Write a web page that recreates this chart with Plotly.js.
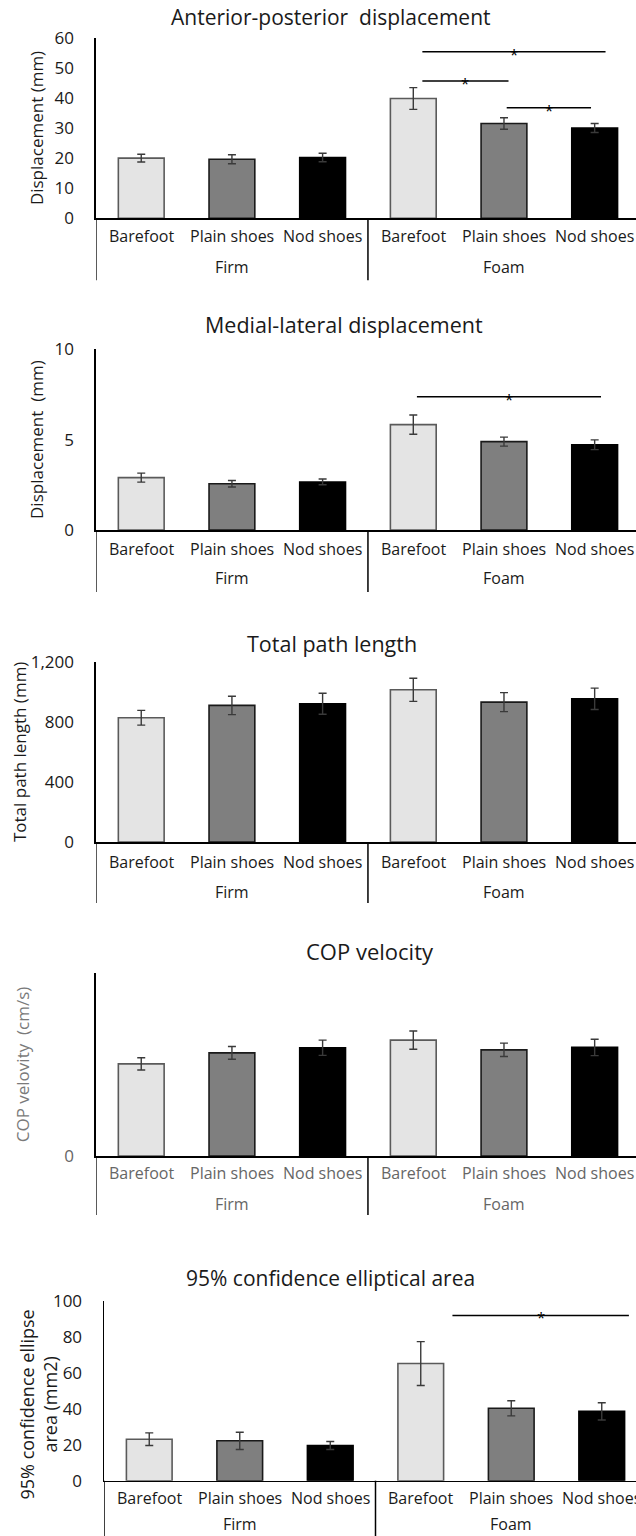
<!DOCTYPE html>
<html>
<head>
<meta charset="utf-8">
<script src="https://cdn.plot.ly/plotly-3.0.1.min.js"></script>
<style>
html,body{margin:0;padding:0;overflow:hidden;background:#fff;}
#chart{width:650px;height:1536px;}
</style>
</head>
<body>
<div id="chart"></div>
<script>
// ---- data ----
const surfaces   = ["Firm","Firm","Firm","Foam","Foam","Foam"];
const conditions = ["Barefoot","Plain shoes","Nod shoes","Barefoot","Plain shoes","Nod shoes"];

const apMean   = [20.0, 19.6, 20.2, 39.8, 31.5, 30.0];
const apErr    = [1.3, 1.5, 1.4, 3.6, 1.9, 1.5];
const mlMean   = [2.90, 2.56, 2.66, 5.83, 4.89, 4.72];
const mlErr    = [0.25, 0.18, 0.16, 0.53, 0.25, 0.27];
const pathMean = [827, 909, 920, 1013, 931, 953];
const pathErr  = [49, 61, 70, 77, 63, 71];
const velMean  = [3.02, 3.38, 3.55, 3.80, 3.48, 3.56];
const velErr   = [0.20, 0.21, 0.25, 0.30, 0.22, 0.27];
const areaMean = [23.1, 22.2, 19.6, 65.2, 40.3, 38.6];
const areaErr  = [3.5, 4.8, 2.2, 12.2, 4.2, 4.8];

const panelTitles = ["Anterior-posterior\u00a0 displacement","Medial-lateral displacement","Total path length","COP velocity","95% confidence elliptical area"];
const yTitles = ["Displacement (mm)","Displacement\u00a0 (mm)","Total path length (mm)","COP velovity\u00a0 (cm/s)","95% confidence ellipse<br>area (mm2)"];

// significance comparisons: [from category index, to category index, level]
const apSig   = [[3.10, 5.12, 55.3], [3.10, 4.05, 45.6], [4.03, 4.96, 36.7]];
const mlSig   = [[3.04, 5.07, 7.38]];
const areaSig = [[3.35, 5.30, 92.0]];

// ---- layout geometry (pixels) ----
const W = 650, H = 1536;
const barColors  = ["#e4e4e4","#7f7f7f","#000000","#e4e4e4","#7f7f7f","#000000"];
const lineColors = ["#5a5a5a","#1a1a1a","#000000","#5a5a5a","#1a1a1a","#000000"];

const panels = [
  {mean: apMean, err: apErr, range:[0,60], ticks:[0,10,20,30,40,50,60], top:37.7, base:218.3, left:95.9, right:640, sig: apSig,
   titleX:331, titleY:17, tSize:21, standoff:6, lab1:18, lab2:49, div:62, gray:false},
  {mean: mlMean, err: mlErr, range:[0,10], ticks:[0,5,10], top:349.3, base:530, left:95.9, right:640, sig: mlSig,
   titleX:344, titleY:325, tSize:21.5, standoff:6, lab1:19, lab2:48, div:62, gray:false},
  {mean: pathMean, err: pathErr, range:[0,1200], ticks:[0,400,800,1200], top:661.7, base:842, left:95.9, right:640, sig: [],
   titleX:332, titleY:643, tSize:21.5, standoff:0, lab1:20, lab2:50, div:61, gray:false},
  {mean: velMean, err: velErr, range:[0,6], ticks:[0], top:973, base:1156, left:95.9, right:640, sig: [],
   titleX:370, titleY:951, tSize:22, standoff:30, lab1:17, lab2:48, div:59, gray:true},
  {mean: areaMean, err: areaErr, range:[0,100], ticks:[0,20,40,60,80,100], top:1301, base:1480.7, left:104, right:647, sig: areaSig,
   titleX:330, titleY:1278, tSize:21, standoff:null, annTitle:{x:37.5, y:1405}, lab1:17, lab2:43, div:70, gray:false}
];

// group centres derived from the category arrays
const groups = [];
surfaces.forEach((s, k) => {
  let g = groups.find(q => q.name === s);
  if (!g) { g = {name: s, idx: []}; groups.push(g); }
  g.idx.push(k);
});

const data = [];
const layout = {
  width: W, height: H,
  margin: {l:0, r:0, t:0, b:0},
  paper_bgcolor: "#fff", plot_bgcolor: "rgba(0,0,0,0)",
  showlegend: false,
  bargap: 0.495,
  font: {family: "Open Sans, sans-serif", color: "#1a1a1a"},
  shapes: [], annotations: []
};

panels.forEach((p, i) => {
  const n = i + 1;
  const xs = n === 1 ? "x" : "x" + n;
  const ys = n === 1 ? "y" : "y" + n;
  const ov = "x" + (n + 5);
  const xDom = [p.left / W, p.right / W];
  const yDom = [1 - p.base / H, 1 - p.top / H];
  const txtCol = p.gray ? "#666666" : "#1a1a1a";

  data.push({
    type: "bar",
    x: [surfaces, conditions],
    y: p.mean,
    xaxis: xs, yaxis: ys,
    marker: {color: barColors, line: {color: lineColors, width: 1.6}},
    error_y: {type: "data", array: p.err, visible: true, color: "#3a3a3a", thickness: 1.4, width: 4},
    hoverinfo: "skip"
  });

  layout["xaxis" + (n === 1 ? "" : n)] = {
    type: "multicategory",
    domain: xDom, anchor: ys,
    showline: true, linecolor: "#000", linewidth: 1.5,
    showgrid: false, zeroline: false, ticks: "",
    showticklabels: false, showdividers: false,
    fixedrange: true
  };
  layout["xaxis" + (n + 5)] = {
    domain: xDom, anchor: ys, overlaying: xs,
    range: [-0.5, conditions.length - 0.5], visible: false, fixedrange: true
  };
  const yax = {
    domain: yDom, anchor: xs,
    range: p.range, tickvals: p.ticks, tickformat: ",",
    showline: true, linecolor: "#000", linewidth: 1.5,
    showgrid: false, zeroline: false, ticks: "",
    ticklabelstandoff: 17,
    tickfont: {family: "Open Sans, sans-serif", size: 17, color: txtCol},
    fixedrange: true
  };
  if (p.standoff !== null) {
    yax.title = {text: yTitles[i], standoff: p.standoff,
                 font: {family: "Open Sans, sans-serif", size: 17, color: p.gray ? "#7a7a7a" : "#1a1a1a"}};
  } else {
    layout.annotations.push({
      xref: "paper", yref: "paper", x: p.annTitle.x / W, y: 1 - p.annTitle.y / H,
      xanchor: "center", yanchor: "middle", textangle: -90, showarrow: false,
      text: yTitles[i],
      font: {family: "Open Sans, sans-serif", size: 18, color: "#1a1a1a"}
    });
  }
  layout["yaxis" + (n === 1 ? "" : n)] = yax;

  // panel title
  layout.annotations.push({
    xref: "paper", yref: "paper",
    x: p.titleX / W, y: 1 - p.titleY / H,
    xanchor: "center", yanchor: "middle",
    text: panelTitles[i], showarrow: false,
    font: {family: "Open Sans, sans-serif", size: p.tSize, color: "#1a1a1a"}
  });

  // category labels
  conditions.forEach((c, k) => {
    layout.annotations.push({
      xref: ov, yref: ys, x: k, y: 0, yshift: -p.lab1,
      xanchor: "center", yanchor: "middle", showarrow: false, text: c,
      font: {family: "Open Sans, sans-serif", size: 16, color: txtCol}
    });
  });
  groups.forEach(g => {
    const cx = g.idx.reduce((a, b) => a + b, 0) / g.idx.length;
    layout.annotations.push({
      xref: ov, yref: ys, x: cx, y: 0, yshift: -p.lab2,
      xanchor: "center", yanchor: "middle", showarrow: false, text: g.name,
      font: {family: "Open Sans, sans-serif", size: 16, color: txtCol}
    });
  });
  // group dividers below the axis
  const edges = [-0.5];
  groups.forEach(g => edges.push(g.idx[g.idx.length - 1] + 0.5));
  edges.forEach(e => {
    layout.shapes.push({
      type: "line", xref: ov, yref: "paper", x0: e, x1: e,
      y0: 1 - p.base / H, y1: Math.max(0, 1 - (p.base + p.div) / H),
      line: {color: "#000", width: 1.5}
    });
  });

  // significance bars
  p.sig.forEach(s => {
    layout.shapes.push({
      type: "line", xref: ov, yref: ys,
      x0: s[0], x1: s[1], y0: s[2], y1: s[2],
      line: {color: "#000", width: 1.5}
    });
    layout.annotations.push({
      xref: ov, yref: ys, x: (s[0] + s[1]) / 2, y: s[2],
      text: "*", showarrow: false, yanchor: "middle", yshift: -2,
      font: {family: "Open Sans, sans-serif", size: 15, color: "#000"}
    });
  });
});

Plotly.newPlot("chart", data, layout, {staticPlot: true});
</script>
</body>
</html>
